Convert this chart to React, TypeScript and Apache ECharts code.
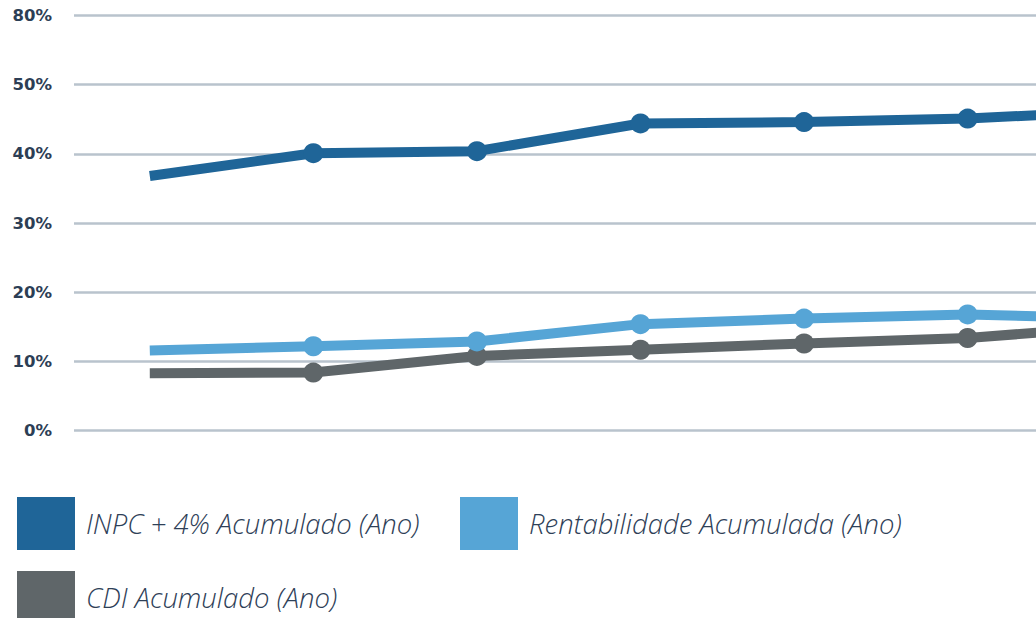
import React, { useEffect, useRef } from "react";
import * as echarts from "echarts";

const categories = ["P1", "P2", "P3", "P4", "P5", "P6", "P7"];
const inpc = [36.8, 40.1, 40.4, 44.4, 44.6, 45.1, 46.3];
const rentabilidade = [11.6, 12.2, 12.9, 15.4, 16.2, 16.8, 16.2];
const cdi = [8.3, 8.4, 10.8, 11.7, 12.6, 13.4, 15.2];
const tickLabels = ["0%", "10%", "20%", "30%", "40%", "50%", "80%"];
const seriesNames = [
  "INPC + 4% Acumulado (Ano)",
  "Rentabilidade Acumulada (Ano)",
  "CDI Acumulado (Ano)",
];
const colors = ["#1F6598", "#56A5D6", "#5F6669"];

export default function App() {
  const ref = useRef<HTMLDivElement>(null);
  useEffect(() => {
    if (!ref.current) return;
    const chart = echarts.init(ref.current, null, { renderer: "svg" });
    const mk = (arr: number[]) =>
      arr.map((v, i) => (i === 0 ? { value: v, symbol: "none" } : v));
    const legendText = {
      fontFamily: "Open Sans",
      fontStyle: "italic" as const,
      fontWeight: 300,
      fontSize: 27.5,
      color: "#2E4057",
      padding: [4, 0, 0, 6],
    };
    const legendBase = {
      icon: "rect",
      itemWidth: 58,
      itemHeight: 53,
      padding: 0,
      itemStyle: { borderWidth: 0 },
      textStyle: legendText,
      selectedMode: false,
    };
    chart.setOption({
      animation: false,
      grid: [
        { left: 74, right: 0, top: 15.5, bottom: 187.3 },
        { left: 68, right: 0, top: 15.5, bottom: 187.3 },
      ],
      xAxis: [
        { type: "category", gridIndex: 0, data: categories, show: false },
        {
          type: "category",
          gridIndex: 1,
          data: categories,
          boundaryGap: true,
          show: false,
        },
      ],
      yAxis: [
        {
          type: "value",
          gridIndex: 0,
          min: 0,
          max: 60,
          interval: 10,
          axisLine: { show: false },
          axisTick: { show: false },
          splitLine: { lineStyle: { color: "#B9C3CD", width: 2.5 } },
          axisLabel: {
            margin: 22,
            fontFamily: "DejaVu Sans",
            fontWeight: 700,
            fontSize: 16.5,
            color: "#2C3E55",
            formatter: (v: number) => tickLabels[Math.round(v / 10)] ?? "",
          },
        },
        {
          type: "value",
          gridIndex: 1,
          min: 0,
          max: 60,
          interval: 10,
          show: false,
          splitLine: { show: false },
        },
      ],
      legend: [
        { ...legendBase, left: 17, top: 497, data: [seriesNames[0]] },
        { ...legendBase, left: 460, top: 497, data: [seriesNames[1]] },
        { ...legendBase, left: 17, top: 571, data: [seriesNames[2]] },
      ],
      series: [inpc, rentabilidade, cdi].map((arr, i) => ({
        name: seriesNames[i],
        type: "line",
        xAxisIndex: 1,
        yAxisIndex: 1,
        data: mk(arr),
        symbol: "circle",
        symbolSize: 20,
        color: colors[i],
        lineStyle: { width: 10, color: colors[i] },
        itemStyle: { color: colors[i] },
        z: 3 - i,
      })),
    });
    return () => chart.dispose();
  }, []);
  return (
    <div
      style={{
        position: "fixed",
        left: 0,
        top: 0,
        width: 1036,
        height: 618,
        overflow: "hidden",
        background: "#fff",
      }}
    >
      <div ref={ref} style={{ width: 1213, height: 618 }} />
    </div>
  );
}
